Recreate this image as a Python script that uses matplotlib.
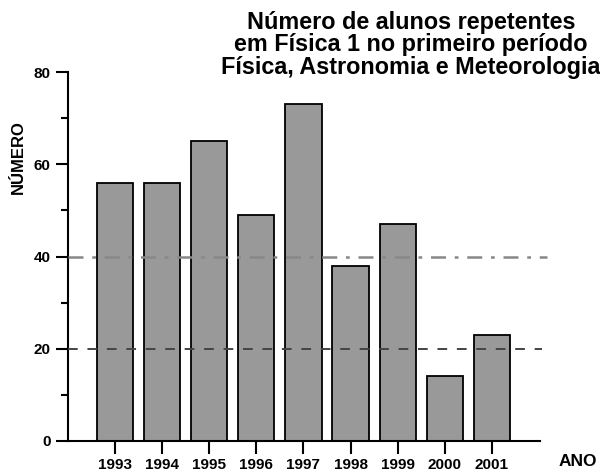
import matplotlib
matplotlib.use("Agg")
from matplotlib import pyplot as plt
from matplotlib.ticker import MultipleLocator

# dados
anos = [1993, 1994, 1995, 1996, 1997, 1998, 1999, 2000, 2001]
repetentes = [56, 56, 65, 49, 73, 38, 47, 14, 23]
linha_media = 40
linha_baixa = 20
titulo = "Número de alunos repetentes\nem Física 1 no primeiro período\nFísica, Astronomia e Meteorologia"

plt.rcParams['font.family'] = ['Liberation Sans', 'DejaVu Sans']
plt.rcParams['font.weight'] = 'bold'

fig = plt.figure(figsize=(6, 4.75), dpi=100)
ax = fig.add_axes([0.113, 0.0716, 0.787, 0.7768])

ax.bar(anos, repetentes, width=0.77, color="#999999", edgecolor="black", linewidth=1.3, zorder=2)
ax.plot([1992, 2002.17], [linha_media, linha_media], color="#888888", linewidth=1.8,
        dashes=(6, 3.5, 1.5, 3.5), zorder=3, clip_on=False)
ax.plot([1992, 2002.06], [linha_baixa, linha_baixa], color="#444444", linewidth=1.4,
        dashes=(5, 5), zorder=3, clip_on=False)

ax.set_xlim(1992, 2002.02)
ax.set_ylim(0, 80)
ax.set_xticks(anos)
ax.set_xticklabels([str(a) for a in anos], fontsize=11, fontweight='bold')
ax.yaxis.set_major_locator(MultipleLocator(20))
ax.yaxis.set_minor_locator(MultipleLocator(10))
ax.tick_params(axis='y', labelsize=11, width=1.5, length=9, direction='out')
ax.tick_params(axis='y', which='minor', width=1.5, length=5)
ax.tick_params(axis='x', width=1.5, length=9, direction='out', pad=3)
for lab in ax.get_yticklabels():
    lab.set_fontweight('bold')

for s in ['top', 'right']:
    ax.spines[s].set_visible(False)
ax.spines['left'].set_linewidth(1.5)
ax.spines['bottom'].set_linewidth(1.5)

fig.text(411 / 600, 1 - 45 / 475, titulo, ha='center', va='center', fontsize=16.8,
         fontweight='bold', linespacing=0.97)
fig.text(18 / 600, 1 - 157 / 475, "NÚMERO", rotation=90, ha='center', va='center',
         fontsize=12, fontweight='bold')
fig.text(578 / 600, 1 - 461 / 475, "ANO", ha='center', va='center', fontsize=12.5,
         fontweight='bold')

plt.savefig("out.png", dpi=100)
